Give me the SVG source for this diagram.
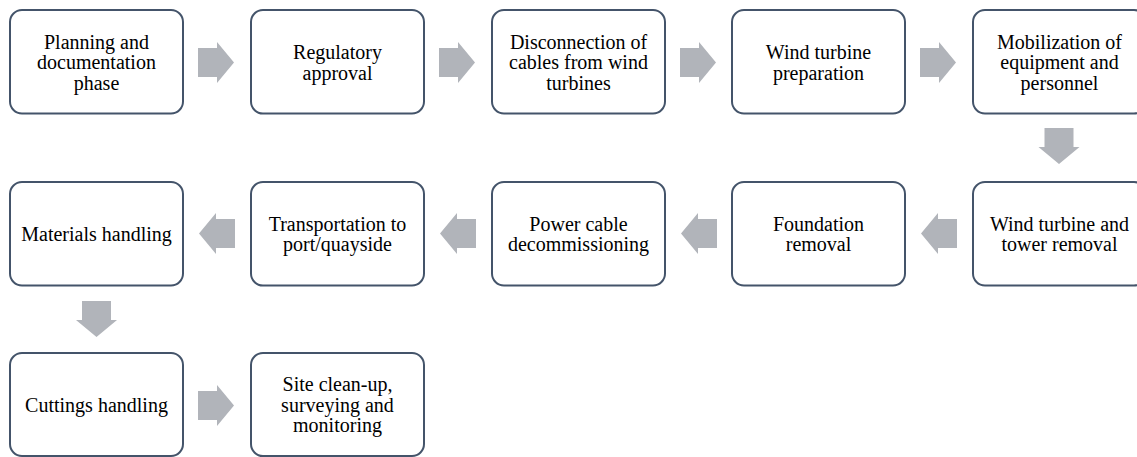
<svg xmlns="http://www.w3.org/2000/svg" width="1137" height="457" viewBox="0 0 1137 457">
<style>
.box{fill:#fff;stroke:#44546A;stroke-width:2}
.t{font-family:"Liberation Serif","Times New Roman",serif;font-size:20px;fill:#000;text-anchor:middle}
.arr{fill:#B1B4BA}
</style>
<defs>
<path id="ar" class="arr" d="M0,-14.5 H19 V-20.5 L36,0 L19,20.5 V14.5 H0 Z"/>
</defs>
<rect width="1137" height="457" fill="#fff"/>
<g id="connectors">
<use href="#ar" transform="translate(198,62.5)"/>
<use href="#ar" transform="translate(439,62.5)"/>
<use href="#ar" transform="translate(680,62.5)"/>
<use href="#ar" transform="translate(920,62.5)"/>
<use href="#ar" transform="translate(1059,128) rotate(90)"/>
<use href="#ar" transform="translate(957,233.5) rotate(180)"/>
<use href="#ar" transform="translate(717,233.5) rotate(180)"/>
<use href="#ar" transform="translate(476,233.5) rotate(180)"/>
<use href="#ar" transform="translate(235,233.5) rotate(180)"/>
<use href="#ar" transform="translate(96.5,301) rotate(90)"/>
<use href="#ar" transform="translate(198,405.5)"/>
</g>
<g id="n1"><rect class="box" x="10" y="10" width="173" height="103.5" rx="12"/>
<text class="t" x="96.5" y="48.5">Planning and</text><text class="t" x="96.5" y="69">documentation</text><text class="t" x="96.5" y="89.5">phase</text></g>
<g id="n2"><rect class="box" x="251" y="10" width="173" height="103.5" rx="12"/>
<text class="t" x="337.5" y="59">Regulatory</text><text class="t" x="337.5" y="79.5">approval</text></g>
<g id="n3"><rect class="box" x="492" y="10" width="173" height="103.5" rx="12"/>
<text class="t" x="578.5" y="48.5">Disconnection of</text><text class="t" x="578.5" y="69">cables from wind</text><text class="t" x="578.5" y="89.5">turbines</text></g>
<g id="n4"><rect class="box" x="732" y="10" width="173" height="103.5" rx="12"/>
<text class="t" x="818.5" y="59">Wind turbine</text><text class="t" x="818.5" y="79.5">preparation</text></g>
<g id="n5"><rect class="box" x="973" y="10" width="173" height="103.5" rx="12"/>
<text class="t" x="1059.5" y="48.5">Mobilization of</text><text class="t" x="1059.5" y="69">equipment and</text><text class="t" x="1059.5" y="89.5">personnel</text></g>
<g id="n6"><rect class="box" x="973" y="182" width="173" height="103.5" rx="12"/>
<text class="t" x="1059.5" y="230.5">Wind turbine and</text><text class="t" x="1059.5" y="251">tower removal</text></g>
<g id="n7"><rect class="box" x="732" y="182" width="173" height="103.5" rx="12"/>
<text class="t" x="818.5" y="230.5">Foundation</text><text class="t" x="818.5" y="251">removal</text></g>
<g id="n8"><rect class="box" x="492" y="182" width="173" height="103.5" rx="12"/>
<text class="t" x="578.5" y="230.5">Power cable</text><text class="t" x="578.5" y="251">decommissioning</text></g>
<g id="n9"><rect class="box" x="251" y="182" width="173" height="103.5" rx="12"/>
<text class="t" x="337.5" y="230.5">Transportation to</text><text class="t" x="337.5" y="251">port/quayside</text></g>
<g id="n10"><rect class="box" x="10" y="182" width="173" height="103.5" rx="12"/>
<text class="t" x="96.5" y="241">Materials handling</text></g>
<g id="n11"><rect class="box" x="10" y="353" width="173" height="103" rx="12"/>
<text class="t" x="96.5" y="412">Cuttings handling</text></g>
<g id="n12"><rect class="box" x="251" y="353" width="173" height="103" rx="12"/>
<text class="t" x="337.5" y="391">Site clean-up,</text><text class="t" x="337.5" y="411.5">surveying and</text><text class="t" x="337.5" y="432">monitoring</text></g>
</svg>
